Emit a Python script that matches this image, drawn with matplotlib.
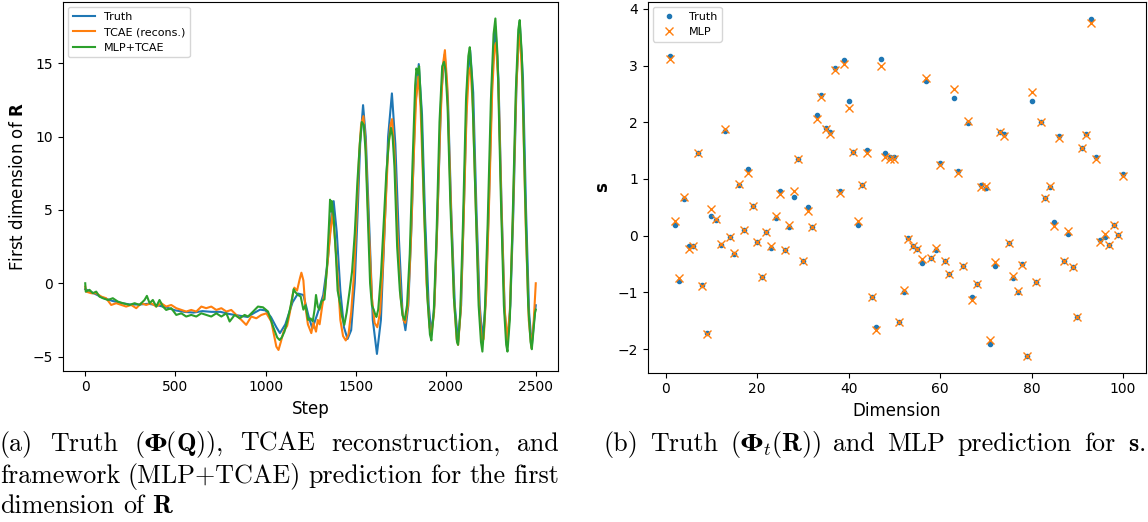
import numpy as np
import matplotlib
matplotlib.use("Agg")
import matplotlib.pyplot as plt

# ---------------- data: left panel (first dimension of R) ----------------
truth_step = [0, 50, 100, 150, 200, 250, 300, 350, 400, 450, 500, 550, 600, 650, 700, 750, 800, 850,
              900, 940, 970, 1000, 1030, 1060, 1080, 1110, 1150, 1180, 1210, 1240, 1260, 1290, 1320,
              1345, 1365, 1378, 1395, 1415, 1435, 1455, 1475, 1495, 1510, 1525, 1541, 1556, 1575,
              1595, 1618, 1640, 1660, 1680, 1701, 1720, 1740, 1760, 1776, 1792, 1810, 1830, 1850,
              1868, 1885, 1905, 1920, 1937, 1955, 1975, 1994, 2012, 2030, 2050, 2068, 2085, 2100,
              2118, 2135, 2152, 2170, 2188, 2203, 2220, 2238, 2257, 2275, 2292, 2310, 2327, 2342,
              2358, 2375, 2393, 2410, 2428, 2445, 2462, 2477, 2490, 2499]
truth_val = [-0.4, -0.7, -1.0, -1.2, -1.35, -1.45, -1.45, -1.4, -1.5, -1.65, -1.85, -1.95, -2.0, -1.9,
             -1.95, -1.95, -2.1, -2.2, -2.3, -2.0, -1.8, -1.85, -2.3, -3.0, -3.4, -2.8, -1.3, -0.7,
             -0.8, -2.3, -3.1, -2.0, -0.8, 1.5, 4.5, 5.6, 3.5, -0.5, -3.0, -3.8, -3.2, 0.0, 4.5, 9.5,
             12.15, 10.0, 4.0, -2.5, -4.82, -2.5, 3.5, 10.0, 12.95, 9.5, 3.0, -2.0, -3.2, -1.5, 4.0,
             12.0, 14.95, 11.5, 4.5, -1.5, -3.4, -1.5, 5.0, 13.0, 15.6, 12.5, 5.0, -1.5, -4.0, -1.5,
             5.0, 13.5, 15.9, 13.0, 5.0, -1.5, -3.8, -1.5, 5.0, 14.0, 17.5, 14.0, 5.0, -2.0, -4.1,
             -1.5, 5.0, 14.0, 17.8, 14.0, 5.0, -2.0, -4.3, -2.5, -1.5]

recon_step = [0, 5, 33, 61, 89, 116, 144, 172, 200, 227, 255, 283, 311, 338, 366, 394, 421, 449, 477,
              505, 533, 560, 588, 616, 644, 671, 699, 727, 755, 783, 810, 838, 866, 893, 921, 949,
              977, 1005, 1032, 1060, 1072, 1085, 1100, 1120, 1135, 1150, 1160, 1175, 1190, 1199, 1210,
              1220, 1235, 1254, 1265, 1280, 1290, 1300, 1315, 1330, 1345, 1360, 1372, 1385, 1400,
              1415, 1430, 1445, 1460, 1475, 1490, 1505, 1520, 1530, 1543, 1555, 1570, 1590, 1605,
              1620, 1635, 1650, 1665, 1680, 1693, 1702, 1715, 1730, 1750, 1765, 1775, 1790, 1805,
              1820, 1835, 1848, 1860, 1875, 1893, 1910, 1920, 1935, 1950, 1968, 1985, 1995, 2008,
              2025, 2045, 2060, 2068, 2082, 2098, 2115, 2128, 2137, 2150, 2168, 2185, 2200, 2210,
              2225, 2240, 2257, 2270, 2278, 2292, 2310, 2325, 2340, 2355, 2372, 2390, 2405, 2412,
              2425, 2443, 2460, 2475, 2488, 2499]
recon_val = [-0.23, -0.57, -0.68, -0.68, -0.91, -1.02, -1.48, -1.36, -1.48, -1.59, -1.48, -1.7, -1.36,
             -1.48, -1.36, -1.59, -1.36, -1.59, -1.48, -1.7, -1.82, -1.93, -1.82, -1.93, -1.59, -1.7,
             -1.59, -1.82, -1.7, -1.93, -1.82, -2.16, -2.5, -2.84, -2.27, -2.39, -2.16, -2.05, -2.61,
             -4.32, -4.55, -4.0, -3.3, -2.9, -2.0, -0.8, -0.3, -0.5, 0.3, 0.72, 0.2, -1.5, -2.8, -3.4,
             -2.7, -3.3, -2.5, -2.8, -1.5, -0.5, 1.5, 3.5, 4.8, 3.0, 0.5, -2.5, -3.6, -3.9, -3.5,
             -2.0, 0.5, 4.5, 9.0, 10.8, 11.4, 9.5, 4.5, -1.0, -2.7, -3.0, -2.0, 1.0, 5.0, 9.0, 10.8,
             11.2, 9.0, 4.0, -1.0, -2.5, -2.7, -1.5, 2.5, 8.0, 12.5, 14.1, 12.0, 6.5, 0.0, -3.0,
             -3.5, -2.0, 3.0, 10.5, 15.0, 15.9, 13.5, 6.5, -1.0, -3.8, -4.2, -2.0, 4.0, 11.5, 14.5,
             14.7, 12.0, 4.5, -1.5, -4.0, -3.8, -0.5, 5.5, 13.0, 16.1, 16.4, 13.5, 4.5, -1.5, -3.9,
             -2.0, 4.5, 13.0, 16.8, 17.0, 13.5, 4.0, -2.5, -4.4, -2.5, 0.0]

mlp_step = [0, 3, 24, 42, 61, 79, 98, 126, 153, 181, 209, 246, 274, 301, 329, 342, 357, 375, 394, 412,
            431, 449, 477, 505, 533, 560, 588, 616, 644, 671, 699, 727, 755, 783, 801, 829, 857, 884,
            903, 931, 958, 986, 1014, 1042, 1065, 1078, 1090, 1105, 1120, 1135, 1150, 1156, 1165,
            1180, 1195, 1210, 1222, 1236, 1250, 1262, 1272, 1280, 1290, 1299, 1312, 1327, 1340, 1352,
            1358, 1363, 1368, 1378, 1390, 1400, 1415, 1425, 1437, 1450, 1467, 1480, 1495, 1510,
            1523, 1534, 1545, 1555, 1570, 1580, 1590, 1600, 1608, 1615, 1625, 1640, 1655, 1670,
            1685, 1696, 1705, 1715, 1730, 1745, 1760, 1772, 1785, 1800, 1815, 1830, 1837, 1845,
            1852, 1865, 1880, 1898, 1912, 1920, 1933, 1948, 1965, 1980, 1990, 1998, 2010, 2025,
            2045, 2062, 2068, 2080, 2095, 2112, 2125, 2133, 2145, 2165, 2182, 2195, 2203, 2215,
            2232, 2250, 2265, 2275, 2287, 2305, 2322, 2335, 2342, 2355, 2370, 2388, 2402, 2410,
            2422, 2440, 2457, 2470, 2477, 2488, 2495, 2499]
mlp_val = [0.0, -0.57, -0.45, -0.68, -0.57, -0.91, -1.02, -1.14, -1.02, -1.25, -1.36, -1.48, -1.36,
           -1.48, -1.14, -0.86, -1.36, -1.14, -1.59, -1.14, -1.59, -1.82, -1.7, -2.16, -2.05, -2.27,
           -2.16, -2.27, -2.05, -2.16, -2.27, -2.05, -2.27, -2.05, -2.61, -2.16, -2.39, -2.16, -2.27,
           -1.93, -1.59, -1.64, -1.93, -2.95, -3.7, -3.87, -3.7, -3.3, -2.6, -1.8, -0.9, -0.4, -0.6,
           -0.8, -0.9, -1.8, -1.5, -2.5, -2.4, -2.6, -1.8, -0.8, -1.6, -1.8, -1.2, -1.1, 1.0, 4.0,
           5.7, 4.9, 5.6, 4.5, 2.0, -0.5, -1.5, -2.3, -2.84, -2.0, -0.46, 0.8, 3.4, 7.0, 9.5, 11.0,
           10.8, 9.0, 3.5, 0.0, -1.5, -1.8, -2.1, -2.3, -1.8, 0.5, 4.0, 7.5, 9.8, 10.6, 10.0, 8.0,
           2.5, -0.5, -2.2, -2.5, -1.5, 2.0, 8.0, 13.5, 14.65, 14.3, 14.8, 11.5, 5.0, -1.0, -3.5,
           -3.9, -2.0, 3.0, 11.0, 14.8, 15.1, 14.6, 12.0, 5.5, -1.0, -4.0, -4.2, -2.0, 4.0, 12.5,
           15.5, 16.1, 14.0, 5.5, -1.5, -4.0, -4.66, -2.5, 4.0, 12.5, 17.0, 18.06, 15.5, 6.0, -1.5,
           -4.2, -4.66, -2.5, 4.0, 13.0, 17.3, 17.95, 15.5, 6.0, -1.5, -4.0, -4.5, -3.0, -2.0, -1.8]

# ---------------- data: right panel (s, 100 dimensions) ----------------
truth_s = [3.17, 0.18, -0.80, 0.64, -0.19, -0.18, 1.45, -0.87, -1.72, 0.34,
           0.27, -0.16, 1.85, -0.03, -0.32, 0.89, 0.10, 1.17, 0.52, -0.11,
           -0.73, 0.07, -0.22, 0.31, 0.78, -0.26, 0.15, 0.68, 1.36, -0.44,
           0.51, 0.15, 2.13, 2.49, 1.90, 1.82, 2.96, 0.79, 3.10, 2.37,
           1.47, 0.18, 0.89, 1.51, -1.09, -1.62, 3.11, 1.45, 1.39, 1.38,
           -1.52, -0.99, -0.05, -0.18, -0.24, -0.48, 2.72, -0.40, -0.25, 1.29,
           -0.45, -0.68, 2.42, 1.14, -0.53, 1.99, -1.09, -0.86, 0.89, 0.84,
           -1.92, -0.53, 1.83, 1.79, -0.13, -0.75, -1.00, -0.50, -2.12, 2.38,
           -0.82, 2.01, 0.67, 0.86, 0.24, 1.75, -0.45, 0.03, -0.55, -1.43,
           1.54, 1.79, 3.83, 1.38, -0.08, -0.03, -0.17, 0.19, 0.02, 1.09]
mlp_s = [3.12, 0.25, -0.75, 0.69, -0.24, -0.19, 1.45, -0.89, -1.73, 0.47,
         0.29, -0.15, 1.88, -0.02, -0.31, 0.92, 0.10, 1.10, 0.52, -0.11,
         -0.73, 0.07, -0.18, 0.34, 0.74, -0.26, 0.18, 0.79, 1.36, -0.44,
         0.44, 0.15, 2.06, 2.45, 1.88, 1.79, 2.93, 0.76, 3.03, 2.26,
         1.47, 0.26, 0.89, 1.46, -1.09, -1.66, 3.00, 1.39, 1.35, 1.35,
         -1.52, -0.96, -0.06, -0.18, -0.24, -0.42, 2.78, -0.40, -0.22, 1.24,
         -0.45, -0.68, 2.58, 1.10, -0.53, 2.03, -1.13, -0.86, 0.85, 0.88,
         -1.84, -0.46, 1.82, 1.75, -0.13, -0.71, -0.98, -0.52, -2.12, 2.54,
         -0.82, 2.00, 0.67, 0.88, 0.17, 1.72, -0.45, 0.09, -0.55, -1.43,
         1.54, 1.78, 3.75, 1.35, -0.11, 0.03, -0.17, 0.19, 0.02, 1.05]
dims = np.arange(1, len(truth_s) + 1)

W, H = 1148, 522
fig = plt.figure(figsize=(W / 100, H / 100), dpi=100)

def px_axes(l, t, r, b):
    return fig.add_axes([l / W, 1 - b / H, (r - l) / W, (b - t) / H])

LABEL_FS = 12
LEG_FS = 8

# left panel
ax1 = px_axes(62.7, 1.7, 558.3, 370.7)
ax1.plot(truth_step, truth_val, label="Truth")
ax1.plot(recon_step, recon_val, label="TCAE (recons.)")
ax1.plot(mlp_step, mlp_val, label="MLP+TCAE")
ax1.set_xlabel("Step", fontsize=LABEL_FS)
ax1.set_ylabel(r"First dimension of $\mathbf{R}$", fontsize=LABEL_FS)
ax1.set_xticks([0, 500, 1000, 1500, 2000, 2500])
ax1.set_yticks([-5, 0, 5, 10, 15])
ax1.legend(loc="upper left", fontsize=LEG_FS)

# right panel
ax2 = px_axes(647.7, 1.7, 1145.7, 372.7)
ax2.plot(dims, truth_s, ".", label="Truth")
ax2.plot(dims, mlp_s, "x", label="MLP")
ax2.set_xlabel("Dimension", fontsize=LABEL_FS)
ax2.set_ylabel(r"$\mathbf{s}$", fontsize=LABEL_FS)
ax2.set_xticks([0, 20, 40, 60, 80, 100])
ax2.legend(loc="upper left", fontsize=LEG_FS)

# captions (LaTeX-like)
cap_kw = dict(fontfamily="cmr10", math_fontfamily="cm", va="baseline", ha="left")
fig.canvas.draw()
rend = fig.canvas.get_renderer()

def width(word, fs):
    t = fig.text(0, 0, word, fontsize=fs, **cap_kw)
    w = t.get_window_extent(rend).width
    t.remove()
    return w

cap_a1 = ["(a)", "Truth", r"($\mathbf{Φ}(\mathbf{Q})$),", "TCAE", "reconstruction,", "and"]
cap_a2 = ["framework", "(MLP+TCAE)", "prediction", "for", "the", "first"]
cap_a3 = ["dimension", "of", r"$\mathbf{R}$"]
cap_b = ["(b)", "Truth", r"($\mathbf{Φ}_t(\mathbf{R})$)", "and", "MLP", "prediction", "for", r"$\mathbf{s}$."]

# size: compromise between the widths of caption line (a)-2 and caption (b)
fs_a = 10 * 540 / width(" ".join(cap_a2), 10)
fs_b = 10 * 542 / width(" ".join(cap_b), 10)
CAP_FS = 0.5 * (fs_a + fs_b)

def line(words, x0, x1, base, justify=True):
    ws = [width(w, CAP_FS) for w in words]
    if justify and len(words) > 1:
        gap = (x1 - x0 - sum(ws)) / (len(words) - 1)
    else:
        gap = width("a a", CAP_FS) - width("aa", CAP_FS)
    x = x0
    for w, wd in zip(words, ws):
        fig.text(x / W, 1 - base / H, w, fontsize=CAP_FS, **cap_kw)
        x += wd + gap

line(cap_a1, 0, 559, 450.7)
line(cap_a2, 0, 559, 482.9)
line(cap_a3, 0, 559, 513.3, justify=False)
line(cap_b, 603, 1145, 450.7)

fig.savefig("out.png", dpi=100)
